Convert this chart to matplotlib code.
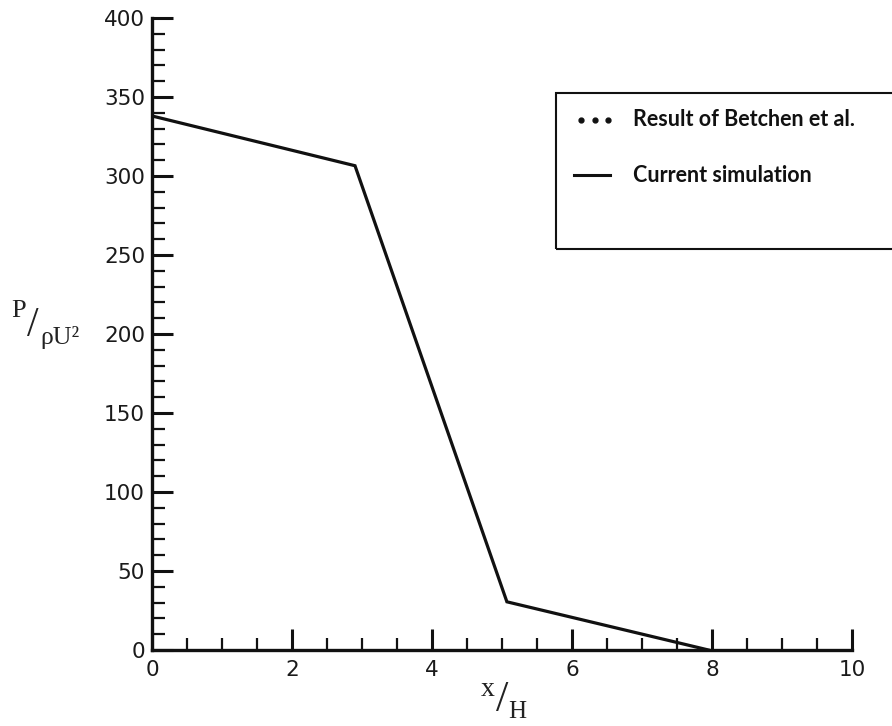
import matplotlib
matplotlib.use("Agg")
import matplotlib.pyplot as plt
from matplotlib.lines import Line2D
from matplotlib.patches import Rectangle
from matplotlib.ticker import MultipleLocator

# data
x_sim = [0.0, 2.9, 5.07, 7.95]
p_sim = [338.0, 306.5, 30.5, 0.0]
legend_labels = ["Result of Betchen et al.", "Current simulation"]
x_ticks = [0, 2, 4, 6, 8, 10]
y_ticks = [0, 50, 100, 150, 200, 250, 300, 350, 400]

W, H = 892, 726
fig = plt.figure(figsize=(W / 100, H / 100), dpi=100)
ax = fig.add_axes([152 / W, 1 - 650 / H, 700 / W, 632 / H])

ax.plot(x_sim, p_sim, color="#111111", lw=2.3, solid_joinstyle="miter")

ax.set_xlim(0, 10)
ax.set_ylim(0, 400)
ax.set_xticks(x_ticks)
ax.set_yticks(y_ticks)
ax.xaxis.set_minor_locator(MultipleLocator(0.5))
ax.yaxis.set_minor_locator(MultipleLocator(10))
for s in ["top", "right"]:
    ax.spines[s].set_visible(False)
for s in ["left", "bottom"]:
    ax.spines[s].set_linewidth(2.4)
    ax.spines[s].set_color("#111111")
ax.tick_params(which="major", direction="in", length=15, width=2.2, color="#111111",
               labelsize=15.5)
ax.tick_params(which="minor", direction="in", length=9, width=1.6, color="#111111")
ax.tick_params(axis="x", pad=7)
ax.tick_params(axis="y", pad=5)
for lab in ax.get_xticklabels() + ax.get_yticklabels():
    lab.set_fontfamily("DejaVu Sans")
    lab.set_color("#1a1a1a")

# y label P/ρU²
fig.text(19 / W, 1 - 311 / H, "P", fontsize=19, family="Liberation Serif", ha="center", va="center", color="#222222")
fig.text(33 / W, 1 - 326 / H, "/", fontsize=30, family="Liberation Serif", ha="center", va="center", color="#222222")
fig.text(40 / W, 1 - 338 / H, "ρU²", fontsize=18.5, family="Liberation Serif", ha="left", va="center", color="#222222")

# x label x/H
fig.text(488 / W, 1 - 689 / H, "x", fontsize=20, family="Liberation Serif", ha="center", va="center", color="#222222")
fig.text(502 / W, 1 - 700 / H, "/", fontsize=32, family="Liberation Serif", ha="center", va="center", color="#222222")
fig.text(517 / W, 1 - 712 / H, "H", fontsize=18, family="Liberation Serif", ha="center", va="center", color="#222222")

# legend box (clipped by the figure edge)
rect = Rectangle((556 / W, 1 - 249 / H), 400 / W, 156 / H, transform=fig.transFigure,
                 fill=False, lw=1.5, edgecolor="#111111")
fig.add_artist(rect)
l1 = Line2D([581 / W, 595 / W, 608 / W], [1 - 120 / H] * 3, transform=fig.transFigure,
            ls="none", marker="o", ms=3.5, color="#111111")
l2 = Line2D([574 / W, 610 / W], [1 - 175 / H] * 2, transform=fig.transFigure,
            lw=2.2, color="#111111")
fig.add_artist(l1)
fig.add_artist(l2)
fig.text(633 / W, 1 - 120 / H, legend_labels[0], fontsize=15.5, family="Lato", weight="bold",
         ha="left", va="center", color="#111111")
fig.text(633 / W, 1 - 175 / H, legend_labels[1], fontsize=15.5, family="Lato", weight="bold",
         ha="left", va="center", color="#111111")

fig.savefig("out.png", dpi=100)
